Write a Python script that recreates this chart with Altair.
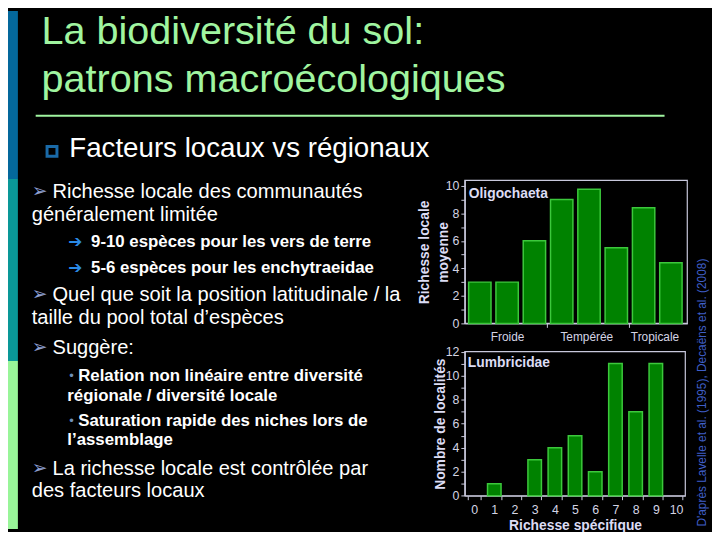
import altair as alt
import pandas as pd

# ---------------- data ----------------
title_lines = ["La biodiversité du sol:", "patrons macroécologiques"]
subtitle = "Facteurs locaux vs régionaux"
main_lines = [
    "Richesse locale des communautés",
    "généralement limitée",
    "Quel que soit la position latitudinale / la",
    "taille du pool total d’espèces",
    "Suggère:",
    "La richesse locale est contrôlée par",
    "des facteurs locaux",
]
sub_lines = [
    "9-10 espèces pour les vers de terre",
    "5-6 espèces pour les enchytraeidae",
    "Relation non linéaire entre diversité",
    "régionale / diversité locale",
    "Saturation rapide des niches lors de",
    "l’assemblage",
]
credit = "D'après Lavelle et al. (1995), Decaëns et al. (2008)"

oligo_region = ["Froide", "Froide", "Froide", "Tempérée", "Tempérée", "Tempérée",
                "Tropicale", "Tropicale"]
oligo_richesse = [3, 3, 6, 9, 9.75, 5.5, 8.4, 4.4]
region_labels = ["Froide", "Tempérée", "Tropicale"]

lumb_richesse = [0, 1, 2, 3, 4, 5, 6, 7, 8, 9, 10]
lumb_localites = [0, 1, 0, 3, 4, 5, 2, 11, 7, 11, 0]

# ---------------- styling ----------------
FONT = "Liberation Sans"
W, H = 712, 524
OFF = 8  # page margin, reference coords -> chart coords
AXIS_C = "#c8c8dc"
LABEL_C = "#d4d4e4"
TITLE_C = "#dcdcf4"
BAR_FILL = "#008200"
BAR_STROKE = "#3cc83c"
GREEN_T = "#a0f5a0"
TICK_FS = 12.5


def txt(s, x, y, size, color="white", bold=False, align="left",
        baseline="alphabetic", angle=0, font=FONT):
    return alt.Chart(alt.Data(values=[{"t": s}])).mark_text(
        align=align, baseline=baseline, fontSize=size, font=font,
        fontWeight="bold" if bold else "normal", color=color, angle=angle,
    ).encode(x=alt.value(x - OFF), y=alt.value(y - OFF), text="t:N")


def band(x0, x1, y0, y1, color):
    return alt.Chart(alt.Data(values=[{}])).mark_rect(color=color).encode(
        x=alt.value(x0), x2=alt.value(x1), y=alt.value(y0), y2=alt.value(y1))


layers = []
# left stripe
layers += [band(0, 10, 0, 170, "#04689c"), band(0, 10, 170, 354, "#0a9898"),
           band(0, 10, 354, H, "#99f599")]

# title
layers += [txt(title_lines[0], 42, 41.7, 40, GREEN_T),
           txt(title_lines[1], 42, 89.5, 40, GREEN_T)]
layers.append(alt.Chart(alt.Data(values=[{}])).mark_rule(color=GREEN_T, strokeWidth=2).encode(
    x=alt.value(36 - OFF), x2=alt.value(672 - OFF), y=alt.value(114 - OFF)))
layers.append(alt.Chart(alt.Data(values=[{}])).mark_point(
    shape="square", filled=False, size=100, strokeWidth=3, color="#1a6aa8", opacity=1).encode(
    x=alt.value(52.5 - OFF), y=alt.value(150 - OFF)))
layers.append(txt(subtitle, 70, 156, 28, "white"))

# bullet text
ARROWHEAD_C = "#8c9fd0"
ARROW_C = "#2a8ae6"
DOT_C = "#7090b8"
main_pos = [(True, 196.7), (False, 220), (True, 301.7), (False, 325), (True, 355),
            (True, 477), (False, 500)]
for s, (head, yb) in zip(main_lines, main_pos):
    if head:
        layers.append(txt("➢", 32, yb - 1, 19, ARROWHEAD_C, font="DejaVu Sans"))
        layers.append(txt(s, 53, yb, 20.3, "white"))
    else:
        layers.append(txt(s, 32, yb, 20.3, "white"))

sub_pos = [("arrow", 247), ("arrow", 272.7), ("dot", 382), (None, 402), ("dot", 428), (None, 447)]
for s, (kind, yb) in zip(sub_lines, sub_pos):
    if kind == "arrow":
        layers.append(txt("➔", 69, yb, 17, ARROW_C, font="DejaVu Sans"))
        layers.append(txt(s, 92, yb, 17, "white", bold=True))
    elif kind == "dot":
        layers.append(txt("•", 70, yb - 1, 13, DOT_C))
        layers.append(txt(s, 79, yb, 17, "white", bold=True))
    else:
        layers.append(txt(s, 68, yb, 17, "white", bold=True))

# ---------------- chart 1 : Oligochaeta ----------------
oligo_df = pd.DataFrame({"i": list(range(len(oligo_richesse))), "region": oligo_region,
                         "richesse": oligo_richesse})
X1MAX, Y1MAX = 8.15, 10.4
x1s = alt.Scale(domain=[0, X1MAX], range=[470 - OFF, 695 - OFF], nice=False, zero=False)
y1s = alt.Scale(domain=[0, Y1MAX], range=[324 - OFF, 179.3 - OFF], nice=False)
lab_pos = [1.55, 4.45, 6.95]
lab_expr = " : ".join(f"datum.value == {p} ? '{l}'" for p, l in zip(lab_pos, region_labels)) + " : ''"
x1_axis = alt.Axis(
    orient="bottom", offset=-(H - (324 - OFF)), values=[0, lab_pos[0], 3, lab_pos[1], 6, lab_pos[2]],
    labelExpr=lab_expr, title=None, grid=False, domainColor=AXIS_C, domainWidth=1.2,
    tickColor=AXIS_C, tickSize=4, labelPadding=4, labelColor=LABEL_C, labelFont=FONT,
    labelFontSize=12, labelOverlap=False, labelFlush=False, labelAngle=0,
    tickOpacity={"condition": {"test": "datum.value == 3 || datum.value == 6", "value": 1}, "value": 0},
)
y1_axis = alt.Axis(
    orient="left", offset=-(470 - OFF), values=list(range(0, 11)),
    labelExpr="datum.value % 2 == 0 ? datum.label : ''", grid=False,
    domainColor=AXIS_C, domainWidth=1.2, tickColor=AXIS_C, tickSize=4, labelPadding=2,
    labelColor=LABEL_C, labelFont=FONT, labelFontSize=TICK_FS, labelOverlap=False,
    title=["Richesse locale", "moyenne"], titleFont=FONT, titleFontSize=14,
    titleFontWeight="bold", titleColor=TITLE_C, titlePadding=-5, titleLineHeight=19,
)
frame1 = alt.Chart(alt.Data(values=[{}])).mark_rect(
    fillOpacity=0, stroke=AXIS_C, strokeWidth=1.2).encode(
    x=alt.X(datum=0, scale=x1s, axis=x1_axis), x2=alt.datum(X1MAX),
    y=alt.Y(datum=0, scale=y1s, axis=y1_axis), y2=alt.datum(Y1MAX))
bars1 = alt.Chart(oligo_df).transform_calculate(
    xa="datum.i + 0.14", xb="datum.i + 0.96").mark_rect(
    fill=BAR_FILL, stroke=BAR_STROKE, strokeWidth=1.5).encode(
    x=alt.X("xa:Q", scale=x1s, axis=x1_axis), x2="xb:Q",
    y=alt.Y("richesse:Q", scale=y1s, axis=y1_axis), y2=alt.datum(0))
chart1 = alt.layer(frame1, bars1, txt("Oligochaeta", 474, 196.7, 14, TITLE_C, bold=True))

# ---------------- chart 2 : Lumbricidae ----------------
lumb_df = pd.DataFrame({"k": lumb_richesse, "n": lumb_localites})
x2s = alt.Scale(domain=lumb_richesse, range=[470 - OFF, 693 - OFF], paddingInner=0.33,
                paddingOuter=0.125)
y2s = alt.Scale(domain=[0, 12], range=[498.3 - OFF, 352.5 - OFF], nice=False)
x2_axis = alt.Axis(
    orient="bottom", offset=-(H - (498.3 - OFF)), tickBand="extent", grid=False,
    domainColor=AXIS_C, domainWidth=1.2, tickColor=AXIS_C, tickSize=4, labelPadding=4,
    labelColor=LABEL_C, labelFont=FONT, labelFontSize=TICK_FS, labelAngle=0,
    title="Richesse spécifique", titleFont=FONT, titleFontSize=14, titleFontWeight="bold",
    titleColor=TITLE_C, titlePadding=3,
)
y2_axis = alt.Axis(
    orient="left", offset=-(470 - OFF), values=list(range(0, 13)),
    labelExpr="datum.value % 2 == 0 ? datum.label : ''", grid=False,
    domainColor=AXIS_C, domainWidth=1.2, tickColor=AXIS_C, tickSize=4, labelPadding=2,
    labelColor=LABEL_C, labelFont=FONT, labelFontSize=TICK_FS, labelOverlap=False,
    title="Nombre de localités", titleFont=FONT, titleFontSize=14, titleFontWeight="bold",
    titleColor=TITLE_C, titlePadding=-2,
)
frame2 = alt.Chart(alt.Data(values=[{}])).mark_rect(
    fillOpacity=0, stroke=AXIS_C, strokeWidth=1.2).encode(
    x=alt.value(470 - OFF), x2=alt.value(693 - OFF),
    y=alt.Y(datum=0, scale=y2s, axis=y2_axis), y2=alt.datum(12))
bars2 = alt.Chart(lumb_df).transform_filter("datum.n > 0").mark_bar(
    fill=BAR_FILL, stroke=BAR_STROKE, strokeWidth=1.5).encode(
    x=alt.X("k:O", scale=x2s, axis=x2_axis, sort=None),
    y=alt.Y("n:Q", scale=y2s, axis=y2_axis))
chart2 = alt.layer(frame2, bars2, txt("Lumbricidae", 473, 368, 14, TITLE_C, bold=True))

layers += [chart1, chart2]
layers.append(txt(credit, 710, 394, 12, "#3f5fc8", align="center", baseline="middle", angle=270))

chart = alt.layer(*layers).resolve_scale(x="independent", y="independent").properties(
    width=W, height=H, autosize="none", padding=0, background="black",
).configure_view(stroke=None)

chart.save("out.html", embed_options={"renderer": "svg", "actions": False})
